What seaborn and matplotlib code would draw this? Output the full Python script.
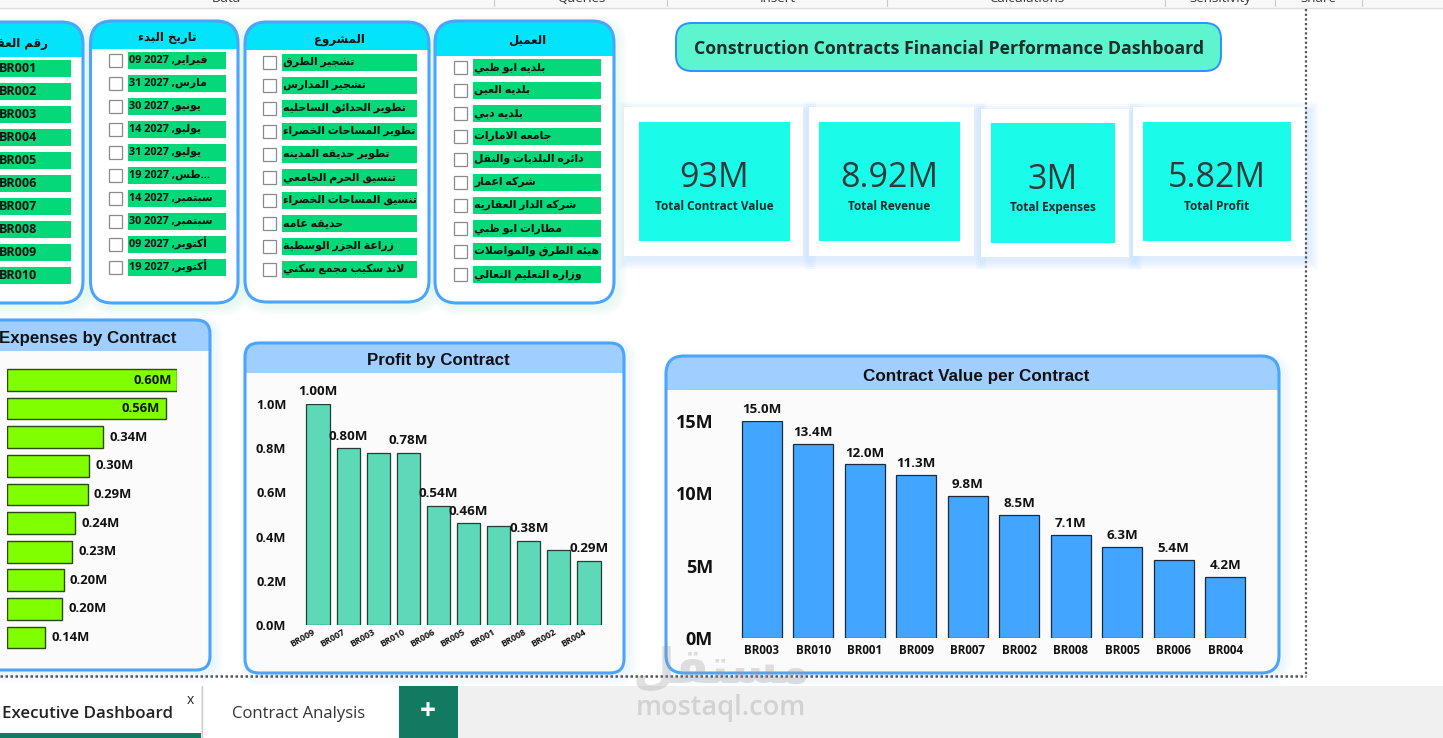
import re
import matplotlib
matplotlib.use("Agg")
import matplotlib.pyplot as plt
from matplotlib.patches import FancyBboxPatch, Rectangle
from matplotlib.ticker import FuncFormatter
from matplotlib.transforms import ScaledTranslation
import seaborn as sns

# ---------- data ----------
value_contracts = ["BR003", "BR010", "BR001", "BR009", "BR007", "BR002", "BR008", "BR005", "BR006", "BR004"]
value_millions = [15.0, 13.4, 12.0, 11.3, 9.8, 8.5, 7.1, 6.3, 5.4, 4.2]
value_ticks = [0, 5, 10, 15]

profit_contracts = ["BR009", "BR007", "BR003", "BR010", "BR006", "BR005", "BR001", "BR008", "BR002", "BR004"]
profit_millions = [1.00, 0.80, 0.78, 0.78, 0.54, 0.46, 0.45, 0.38, 0.34, 0.29]
profit_shown = ["1.00M", "0.80M", "", "0.78M", "0.54M", "0.46M", "", "0.38M", "", "0.29M"]
profit_ticks = [0.0, 0.2, 0.4, 0.6, 0.8, 1.0]

expense_contracts = ["BR003", "BR010", "BR001", "BR009", "BR007", "BR002", "BR008", "BR005", "BR006", "BR004"]
expense_millions = [0.60, 0.56, 0.34, 0.29, 0.285, 0.24, 0.23, 0.20, 0.195, 0.135]
expense_shown = ["0.60M", "0.56M", "0.34M", "0.30M", "0.29M", "0.24M", "0.23M", "0.20M", "0.20M", "0.14M"]

kpi_values = ["93M", "8.92M", "3M", "5.82M"]
kpi_names = ["Total Contract Value", "Total Revenue", "Total Expenses", "Total Profit"]

clients = ["بلديه ابو ظبي", "بلديه العين", "بلديه دبي", "جامعه الامارات", "دائره البلديات والنقل",
           "شركه اعمار", "شركه الدار العقاريه", "مطارات ابو ظبي", "هيئه الطرق والمواصلات", "وزاره التعليم التعالي"]
projects = ["تشجير الطرق", "تشجير المدارس", "تطوير الحدائق الساحليه", "تطوير المساحات الخضراء", "تطوير حديقه المدينه",
            "تنسيق الحرم الجامعي", "تنسيق المساحات الخضراء", "حديقه عامه", "زراعة الجزر الوسطية", "لاند سكيب مجمع سكني"]
start_dates = ["فبراير, 2027 09", "مارس, 2027 31", "يونيو, 2027 30", "يوليو, 2027 14", "يوليو, 2027 31",
               "...طس, 2027 19", "سبتمبر, 2027 14", "سبتمبر, 2027 30", "أكتوبر, 2027 09", "أكتوبر, 2027 19"]
contract_ids = ["BR001", "BR002", "BR003", "BR004", "BR005", "BR006", "BR007", "BR008", "BR009", "BR010"]

ribbon_tabs = ["Data", "Queries", "Insert", "Calculations", "Sensitivity", "Share"]

# ---------- Arabic shaping (matplotlib draws no contextual forms or RTL order) ----------
_four = {"ئ": 0xFE89, "ب": 0xFE8F, "ت": 0xFE95, "ث": 0xFE99, "ج": 0xFE9D, "ح": 0xFEA1, "خ": 0xFEA5,
         "س": 0xFEB1, "ش": 0xFEB5, "ص": 0xFEB9, "ض": 0xFEBD, "ط": 0xFEC1, "ظ": 0xFEC5, "ع": 0xFEC9,
         "غ": 0xFECD, "ف": 0xFED1, "ق": 0xFED5, "ك": 0xFED9, "ل": 0xFEDD, "م": 0xFEE1, "ن": 0xFEE5,
         "ه": 0xFEE9, "ي": 0xFEF1}
_two = {"آ": 0xFE81, "أ": 0xFE83, "ؤ": 0xFE85, "إ": 0xFE87, "ا": 0xFE8D, "ة": 0xFE93, "د": 0xFEA9,
        "ذ": 0xFEAB, "ر": 0xFEAD, "ز": 0xFEAF, "و": 0xFEED, "ى": 0xFEEF}
_lam_alef = {"ا": 0xFEFB, "أ": 0xFEF7, "إ": 0xFEF9, "آ": 0xFEF5}


def ar(text):
    chars = []
    i = 0
    while i < len(text):
        if text[i] == "ل" and i + 1 < len(text) and text[i + 1] in _lam_alef:
            chars.append(("LA", text[i + 1]))
            i += 2
        else:
            chars.append((text[i], None))
            i += 1
    out = []
    for n, (c, extra) in enumerate(chars):
        prev = chars[n - 1][0] if n else ""
        nxt = chars[n + 1][0] if n + 1 < len(chars) else ""
        joins_prev = prev in _four
        joins_next = nxt in _four or nxt in _two or nxt == "LA"
        if c == "LA":
            out.append(chr(_lam_alef[extra] + (1 if joins_prev else 0)))
        elif c in _four:
            out.append(chr(_four[c] + (3 if joins_prev and joins_next else 1 if joins_prev else 2 if joins_next else 0)))
        elif c in _two:
            out.append(chr(_two[c] + (1 if joins_prev else 0)))
        else:
            out.append(c)
    visual = "".join(reversed(out))
    return re.sub(r"[0-9A-Za-z]+", lambda m: m.group(0)[::-1], visual)


# ---------- figure ----------
W, H = 1443, 738
sns.set_theme(style="white")
plt.rcParams["font.family"] = ["Open Sans", "DejaVu Sans"]
fig = plt.figure(figsize=(W / 100, H / 100), dpi=100, facecolor="white")
bg = fig.add_axes([0, 0, 1, 1], zorder=0)
bg.set_xlim(0, W)
bg.set_ylim(H, 0)
bg.axis("off")

BLUE = "#4BA5FF"
HEADER = "#A0CFFF"
CYAN_HEAD = "#03E4FB"
GREEN_ROW = "#05D879"
INK = "#111111"
MIX = ["Open Sans", "DejaVu Sans"]


def round_box(x0, y0, x1, y1, r, face, edge="none", lw=0, z=2):
    p = FancyBboxPatch((x0, y0), x1 - x0, y1 - y0, boxstyle=f"round,pad=0,rounding_size={r}",
                       facecolor=face, edgecolor=edge, linewidth=lw, zorder=z)
    bg.add_patch(p)
    return p


def shadow(x0, y0, x1, y1, r, color, dx=4, dy=4, spread=9, alpha=0.05):
    for s in range(spread, 0, -2):
        round_box(x0 + dx - s, y0 + dy - s, x1 + dx + s, y1 + dy + s, r + s, color, z=1).set_alpha(alpha)


def panel(x0, y0, x1, y1, head_y, head_color, face, r, shadow_color):
    shadow(x0, y0, x1, y1, r, shadow_color)
    p = round_box(x0, y0, x1, y1, r, face, z=2)
    h = Rectangle((x0, y0), x1 - x0, head_y - y0, facecolor=head_color, edgecolor="none", zorder=3)
    bg.add_patch(h)
    h.set_clip_path(p)
    round_box(x0, y0, x1, y1, r, "none", BLUE, 2.2, z=4)


def slicer(x0, y0, x1, y1, head_y, title, title_x, title_y, rows, row_x0, row_x1, row_top, box_x, arabic):
    panel(x0, y0, x1, y1, head_y, CYAN_HEAD, "white", 22, "#A9E8C9")
    bg.text(title_x, title_y, ar(title), ha="center", va="center", fontsize=8.5, fontweight="bold",
            family="DejaVu Sans", color=INK, zorder=6)
    for i, row in enumerate(rows):
        top = row_top + 23 * i
        bg.add_patch(Rectangle((row_x0, top), row_x1 - row_x0, 17, facecolor=GREEN_ROW, edgecolor="none", zorder=5))
        if box_x is not None:
            bg.add_patch(Rectangle((box_x, top + 2), 13, 13, facecolor="white", edgecolor="#8A8A8A",
                                   linewidth=0.9, zorder=5))
        bg.text(max(row_x0, -2) + 1, top + 8.5, ar(row) if arabic else row, ha="left", va="center",
                fontsize=7.8 if arabic else 9, fontweight="bold", family=MIX, color=INK, zorder=6)


slicer(435, 21, 614, 303, 56, "العميل", 527, 40, clients, 473, 601, 59, 454, True)
slicer(245, 22, 429, 302, 50, "المشروع", 339, 39, projects, 282, 417, 54, 263, True)
slicer(90.5, 21, 238, 303, 49, "تاريخ البدء", 167, 37, start_dates, 128, 226, 52, 109, True)
slicer(-70, 22, 83, 303, 57, "رقم العقد", 19, 43, contract_ids, -20, 71, 60, None, False)

# title box
round_box(676, 23, 1221, 71, 16, "#5EF5CE", "#2E8FFF", 1.4, z=4)
bg.text(949, 49, "Construction Contracts Financial Performance Dashboard", ha="center", va="center",
        fontsize=12.8, fontweight="bold", color="#1C2B2B", zorder=6)

# KPI cards: white card, cyan tile, value text centre, label centre
cards = [((624, 107, 803, 256), (639, 122, 790, 241), 178, 206),
         ((809, 107, 974, 256), (819, 122, 960, 241), 178, 206),
         ((981, 109, 1129, 257), (991, 123, 1115, 243), 180, 208),
         ((1133, 107, 1305, 256), (1143, 122, 1291, 241), 178, 206)]
for (c, t, vy, ly), val, name in zip(cards, kpi_values, kpi_names):
    for s in range(9, 0, -2):
        sh = Rectangle((c[0] + 4 - s, c[1] + 4 - s), c[2] - c[0] + 2 * s, c[3] - c[1] + 2 * s,
                       facecolor="#9CCBFF", edgecolor="none", alpha=0.07, zorder=1)
        bg.add_patch(sh)
    bg.add_patch(Rectangle((c[0], c[1]), c[2] - c[0], c[3] - c[1], facecolor="white", edgecolor="none", zorder=2))
    bg.add_patch(Rectangle((t[0], t[1]), t[2] - t[0], t[3] - t[1], facecolor="#1AFBE9", edgecolor="none", zorder=3))
    mid = (t[0] + t[2]) / 2
    bg.text(mid, vy, val, ha="center", va="center", fontsize=24.5, color="#2F3A3A", zorder=6)
    bg.text(mid, ly, name, ha="center", va="center", fontsize=8.5, fontweight="bold", color="#1C2B2B", zorder=6)

# chart panels
panel(-40, 320, 210, 670, 351, HEADER, "#FBFBFB", 14, "#B9DAFF")
bg.text(88, 338, "Expenses by Contract", ha="center", va="center", fontsize=12.2, fontweight="bold",
        family="Liberation Sans", color=INK, zorder=6)
panel(245, 343, 624, 673, 373, HEADER, "#FBFBFB", 14, "#B9DAFF")
bg.text(438, 360, "Profit by Contract", ha="center", va="center", fontsize=12.2, fontweight="bold",
        family="Liberation Sans", color=INK, zorder=6)
panel(666, 356, 1279, 673, 390, HEADER, "#FBFBFB", 18, "#B9DAFF")
bg.text(976, 376, "Contract Value per Contract", ha="center", va="center", fontsize=12.3, fontweight="bold",
        family="Liberation Sans", color=INK, zorder=6)


def chart_axes(left, top, right, bottom):
    ax = fig.add_axes([left / W, 1 - bottom / H, (right - left) / W, (bottom - top) / H], zorder=2)
    ax.patch.set_visible(False)
    sns.despine(ax=ax, left=True, bottom=True)
    return ax


# contract value
ax_v = chart_axes(736, 421, 1251, 638)
sns.barplot(x=value_contracts, y=value_millions, ax=ax_v, color="#42A5FF", saturation=1, width=0.78,
            edgecolor="#1A2B3C", linewidth=0.9)
ax_v.set_xlim(-0.5, 9.5)
ax_v.set_ylim(0, 15)
ax_v.set_yticks(value_ticks)
ax_v.yaxis.set_major_formatter(FuncFormatter(lambda v, _: f"{v:.0f}M"))
ax_v.tick_params(axis="y", length=0, pad=16.5, labelsize=13, labelcolor=INK)
ax_v.tick_params(axis="x", length=0, pad=4.5, labelsize=8.4, labelcolor=INK)
for t in ax_v.get_yticklabels():
    t.set_fontweight("bold")
for t in ax_v.get_xticklabels():
    t.set_fontweight("bold")
ax_v.bar_label(ax_v.containers[0], labels=[f"{v:.1f}M" for v in value_millions], padding=3.5,
               fontsize=9.6, fontweight="bold", color=INK)

# profit
ax_p = chart_axes(303, 404, 604, 625)
sns.barplot(x=profit_contracts, y=profit_millions, ax=ax_p, color="#5DD9B8", saturation=1, width=0.77,
            edgecolor="#243B36", linewidth=0.9)
ax_p.set_xlim(-0.5, 9.5)
ax_p.set_ylim(0, 1)
ax_p.set_yticks(profit_ticks)
ax_p.yaxis.set_major_formatter(FuncFormatter(lambda v, _: f"{v:.1f}M"))
ax_p.tick_params(axis="y", length=0, pad=12, labelsize=9.2, labelcolor=INK)
ax_p.tick_params(axis="x", length=0, pad=2, labelsize=6.4, labelcolor=INK)
for t in ax_p.get_yticklabels():
    t.set_fontweight("bold")
nudge = ScaledTranslation(-6 / 100, 0, fig.dpi_scale_trans)
for t in ax_p.get_xticklabels():
    t.set_rotation(30)
    t.set_ha("right")
    t.set_rotation_mode("anchor")
    t.set_fontweight("bold")
    t.set_transform(t.get_transform() + nudge)
ax_p.bar_label(ax_p.containers[0], labels=profit_shown, padding=4, fontsize=9.6, fontweight="bold", color=INK)

# expenses
ax_e = chart_axes(7, 365.7, 177, 651.8)
sns.barplot(y=expense_contracts, x=expense_millions, ax=ax_e, orient="h", color="#7FFF00", saturation=1,
            width=0.76, edgecolor="#2C4A10", linewidth=1.0)
ax_e.set_xlim(0, 0.6)
ax_e.set_ylim(9.5, -0.5)
ax_e.set_xticks([])
ax_e.set_yticks([])
ax_e.set_xlabel("")
ax_e.set_ylabel("")
for bar, lab in zip(ax_e.containers[0], expense_shown):
    inside = bar.get_width() > 0.5
    ax_e.annotate(lab, (bar.get_width(), bar.get_y() + bar.get_height() / 2),
                  xytext=(-4 if inside else 4.5, 0), textcoords="offset points", va="center",
                  ha="right" if inside else "left", fontsize=9.4, fontweight="bold", color=INK)

# workbook frame: ribbon strip, dotted page edge, sheet tabs
bg.add_patch(Rectangle((0, 0), W, 7.5, facecolor="#F8F8F8", edgecolor="none", zorder=7))
bg.plot([0, W], [8, 8], color="#DDDDDD", lw=1, zorder=7)
for x in [494, 667, 887, 1165, 1275, 1362]:
    bg.plot([x, x], [0, 6], color="#C9C9C9", lw=0.8, zorder=8)
for x, lab in zip([226, 581, 778, 1027, 1220, 1318], ribbon_tabs):
    bg.text(x, 5, lab, ha="center", va="bottom", fontsize=9.5, color="#333333", zorder=8)

bg.plot([1306, 1306], [9, 676], color="#555555", lw=1.6, ls=(0, (1, 1.1)), zorder=7)
bg.plot([0, 1306], [675.5, 675.5], color="#555555", lw=1.8, ls=(0, (1, 1)), zorder=7)

bg.add_patch(Rectangle((0, 686), W, 52, facecolor="#F0F0F0", edgecolor="none", zorder=7))
bg.add_patch(Rectangle((0, 686), 201, 52, facecolor="white", edgecolor="none", zorder=8))
bg.add_patch(Rectangle((0, 733), 201, 5, facecolor="#107C63", edgecolor="none", zorder=9))
bg.add_patch(Rectangle((202, 686), 197, 52, facecolor="white", edgecolor="none", zorder=8))
bg.plot([201.5, 201.5], [686, 738], color="#CCCCCC", lw=1, zorder=9)
bg.add_patch(Rectangle((399, 686), 59, 52, facecolor="#137A62", edgecolor="none", zorder=8))
bg.text(2, 714, "Executive Dashboard", ha="left", va="center", fontsize=12.2, fontweight="semibold",
        color="#222222", zorder=10)
bg.text(190, 700, "x", ha="center", va="center", fontsize=10, color="#222222", zorder=10)
bg.text(232, 714, "Contract Analysis", ha="left", va="center", fontsize=12, color="#333333", zorder=10)
bg.text(428, 711, "+", ha="center", va="center", fontsize=20, fontweight="bold", color="white", zorder=10)

# watermark
over = fig.add_axes([0, 0, 1, 1], zorder=5)
over.set_xlim(0, W)
over.set_ylim(H, 0)
over.axis("off")
over.text(721, 668, ar("مستقل"), ha="center", va="center", fontsize=35, fontweight="bold",
          family="DejaVu Sans", color="#9A9A9A", alpha=0.3)
over.text(721, 708, "mostaql.com", ha="center", va="center", fontsize=19.5, fontweight="semibold",
          color="#9A9A9A", alpha=0.35)

fig.savefig("out.png", dpi=100)
